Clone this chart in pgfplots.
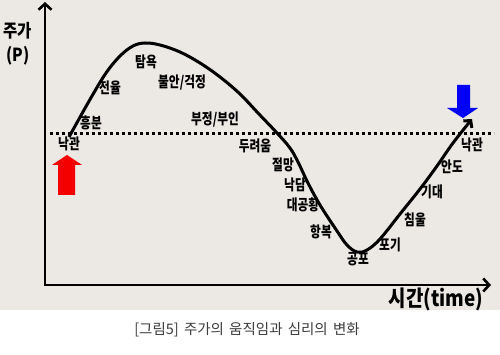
\documentclass[border=0pt]{standalone}
\usepackage{pgfplots}
\pgfplotsset{compat=1.18}
\usepackage{fontspec}
\usetikzlibrary{arrows.meta}
\newfontfamily\krb{Noto Sans CJK KR Black}[FakeStretch=0.78]
\newfontfamily\krbig{Noto Sans CJK KR Black}[FakeStretch=0.86]
\newfontfamily\kr{Noto Sans CJK KR}[WordSpace=1.6]
\definecolor{bg}{RGB}{236,232,228}
\definecolor{arrred}{RGB}{245,0,0}
\definecolor{arrblue}{RGB}{0,0,245}
\definecolor{capgray}{RGB}{60,60,60}
\tikzset{lab/.style={font=\krb\fontsize{15}{15}\selectfont, inner sep=0pt, anchor=center}}
\begin{document}
\begin{tikzpicture}
\begin{axis}[scale only axis, width=500pt, height=355pt,
  xmin=0, xmax=500, ymin=0, ymax=355, y dir=reverse,
  hide axis, clip=false]
% backgrounds
\addplot[fill=white, draw=none] coordinates {(0,0) (500,0) (500,355) (0,355)} -- cycle;
\addplot[fill=bg, draw=none] coordinates {(0,0) (500,0) (500,310) (0,310)} -- cycle;
% axes
\addplot[line width=2.6pt, -{Straight Barb[length=6pt,width=13pt]}] coordinates {(45,285) (45,2)};
\addplot[line width=2.6pt, -{Straight Barb[length=6pt,width=13pt]}] coordinates {(44,285) (491,285)};
% dotted line
\addplot[line width=3pt, dash pattern=on 3pt off 3pt] coordinates {(50,134) (494,134)};
% red arrow
\addplot[fill=arrred, draw=none] coordinates {(58,195) (58,165) (52,165) (67,155) (82,165) (75,165) (75,195)} -- cycle;
% blue arrow
\addplot[fill=arrblue, draw=none] coordinates {(457,85) (470,85) (470,108) (478,108) (463,118) (447,108) (457,108)} -- cycle;
% curve
\addplot[line width=3pt, smooth, tension=0.6, -{Straight Barb[length=5pt,width=11pt]}] coordinates {
(69,137) (79,119) (92,96) (106,73) (120,56) (133,46) (145,43) (160,45) (180,52)
(200,63) (220,77) (240,94) (258,113) (277,133) (290,148) (298,162) (308,183)
(320,205) (337,231) (347,245) (357,252) (367,250) (380,239) (400,214)
(420,189) (437,166) (453,143) (472,119)};
% labels
\node[lab] at (axis cs:69,144) {낙관};
\node[lab] at (axis cs:91,123) {흥분};
\node[lab] at (axis cs:110,88) {전율};
\node[lab] at (axis cs:146,62) {탐욕};
\node[lab] at (axis cs:182,83) {불안/걱정};
\node[lab] at (axis cs:215,120) {부정/부인};
\node[lab] at (axis cs:255,146) {두려움};
\node[lab] at (axis cs:283,165) {절망};
\node[lab] at (axis cs:295,185) {낙담};
\node[lab] at (axis cs:303,205) {대공황};
\node[lab] at (axis cs:321,232) {항복};
\node[lab] at (axis cs:358,259) {공포};
\node[lab] at (axis cs:390,245) {포기};
\node[lab] at (axis cs:415,220) {침울};
\node[lab] at (axis cs:432,192) {기대};
\node[lab] at (axis cs:452,167) {안도};
\node[lab] at (axis cs:472,145) {낙관};
% axis titles
\node[font=\krbig\fontsize{18}{18}\selectfont, inner sep=0pt] at (axis cs:18,31) {주가};
\node[font=\krbig\fontsize{18}{18}\selectfont, inner sep=0pt] at (axis cs:18,56) {(P)};
\node[font=\krbig\fontsize{22}{22}\selectfont, inner sep=0pt] at (axis cs:436,299) {시간(time)};
% caption
\node[font=\kr\fontsize{14.5}{14.5}\selectfont, text=capgray, inner sep=0pt] at (axis cs:247,330) {[그림5] 주가의 움직임과 심리의 변화};
\end{axis}
\end{tikzpicture}
\end{document}
